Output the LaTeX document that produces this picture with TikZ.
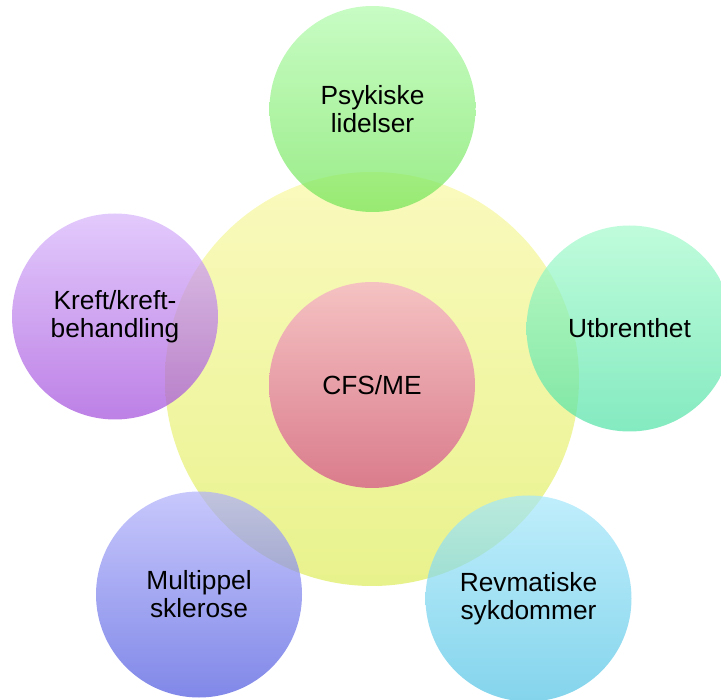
\documentclass[tikz,border=0pt]{standalone}
\usepackage{fontspec}
\setmainfont{Liberation Sans}
\definecolor{ylT}{RGB}{250,250,190}
\definecolor{ylB}{RGB}{232,242,140}
\definecolor{rdT}{RGB}{245,194,194}
\definecolor{rdB}{RGB}{218,124,140}
\definecolor{puT}{RGB}{214,179,251}
\definecolor{puB}{RGB}{161,74,219}
\definecolor{grT}{RGB}{176,251,171}
\definecolor{grB}{RGB}{111,228,85}
\definecolor{tqT}{RGB}{165,251,205}
\definecolor{tqB}{RGB}{79,225,165}
\definecolor{bhT}{RGB}{165,231,251}
\definecolor{bhB}{RGB}{79,194,228}
\definecolor{blT}{RGB}{176,176,251}
\definecolor{blB}{RGB}{74,85,222}
\begin{document}
\begin{tikzpicture}[x=1pt,y=-1pt,
  lbl/.style={font=\fontsize{26.3}{28}\selectfont, align=center, text=black},
  ball/.style={circle, inner sep=0pt, minimum size=206pt, lbl},
  outer/.style={ball, fill opacity=0.7, text opacity=1}]
\useasboundingbox (0,0) rectangle (721,700);
\clip (0,0) rectangle (721,700);
\node[circle, inner sep=0pt, minimum size=414pt, top color=ylT, bottom color=ylB] (big) at (372,379) {};
\node[ball, top color=rdT, bottom color=rdB] (cfs) at (372,385) {CFS/ME};
\node[outer, top color=grT, bottom color=grB] (psy) at (372.5,109) {Psykiske\\lidelser};
\node[outer, top color=tqT, bottom color=tqB] (utb) at (629.5,328.5) {Utbrenthet};
\node[outer, top color=bhT, bottom color=bhB] (rev) at (528.5,598.5) {Revmatiske\\sykdommer};
\node[outer, top color=blT, bottom color=blB] (ms) at (199,594.5) {Multippel\\sklerose};
\node[outer, top color=puT, bottom color=puB] (kreft) at (115,316.5) {Kreft/kreft-\\behandling};
\end{tikzpicture}
\end{document}
